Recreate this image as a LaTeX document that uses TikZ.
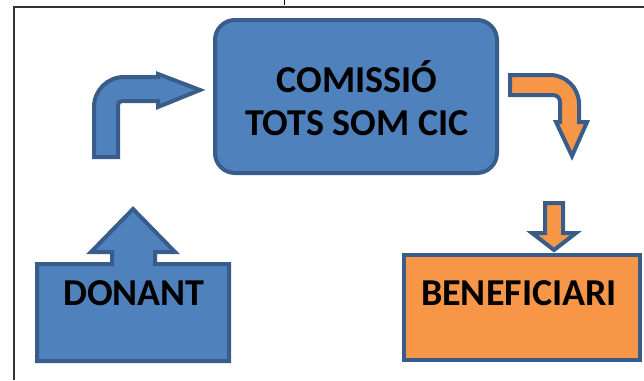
\documentclass[tikz,border=0pt]{standalone}
\usepackage{fontspec}
\setmainfont{Carlito}
\usetikzlibrary{positioning}
\definecolor{boxblue}{HTML}{4F81BD}
\definecolor{edgeblue}{HTML}{385D8A}
\definecolor{boxorange}{HTML}{F79646}

\begin{document}
\begin{tikzpicture}[x=1pt,y=-1pt,
    shape blue/.style={fill=boxblue, draw=edgeblue, line width=4pt},
    shape orange/.style={fill=boxorange, draw=edgeblue, line width=4pt},
    label text/.style={font=\fontsize{38}{43}\selectfont\bfseries, align=center, inner sep=0pt}]
    \useasboundingbox (0,0) rectangle (644,380);
    \draw [line width=1.2pt, draw=black!80] (14,380) -- (14,7) -- (644,7);
    \draw [line width=1pt] (284,0) -- (284,5);

    % central box
    \node [shape blue, rounded corners=20pt, minimum width=282pt, minimum height=153pt] (comissio) at (356,96.5) {};
    \node [label text] (comissio text) at (357,98.5) {COMISSIÓ\\TOTS SOM CIC};

    % donant with its up arrow
    \draw [shape blue] (37,264) -- (112,264) -- (112,252) -- (91,252) -- (133,209) -- (175,252) -- (155,252) -- (155,264)
        -- (229,264) -- (229,361) -- (37,361) -- cycle;
    \node [label text] (donant) at (134,293) {DONANT};

    % beneficiari with the arrow coming in
    \node [shape orange, minimum width=236pt, minimum height=105pt] (benef) at (522,307.5) {};
    \node [label text] (benef text) at (519,293) {BENEFICIARI};
    \draw [shape orange] (545,203) -- (563,203) -- (563,233) -- (576,233) -- (554,250) -- (532,233) -- (545,233) -- cycle;

    % bent arrows
    \draw [shape blue] (94,157) -- (94,107) .. controls (94,90.4) and (107.4,77) .. (124,77) -- (158,77) -- (158,74)
        -- (200,90) -- (158,107) -- (158,101) -- (122,101) .. controls (119.8,101) and (118,102.8) .. (118,105) -- (118,157) -- cycle;
    \draw [shape orange] (510,75) -- (550,75) .. controls (566,75) and (579,88) .. (579,104) -- (579,122) -- (587,122)
        -- (572,156) -- (556,122) -- (560,122) -- (560,102) .. controls (560,98) and (557,95) .. (553,95) -- (510,95) -- cycle;
\end{tikzpicture}
\end{document}
